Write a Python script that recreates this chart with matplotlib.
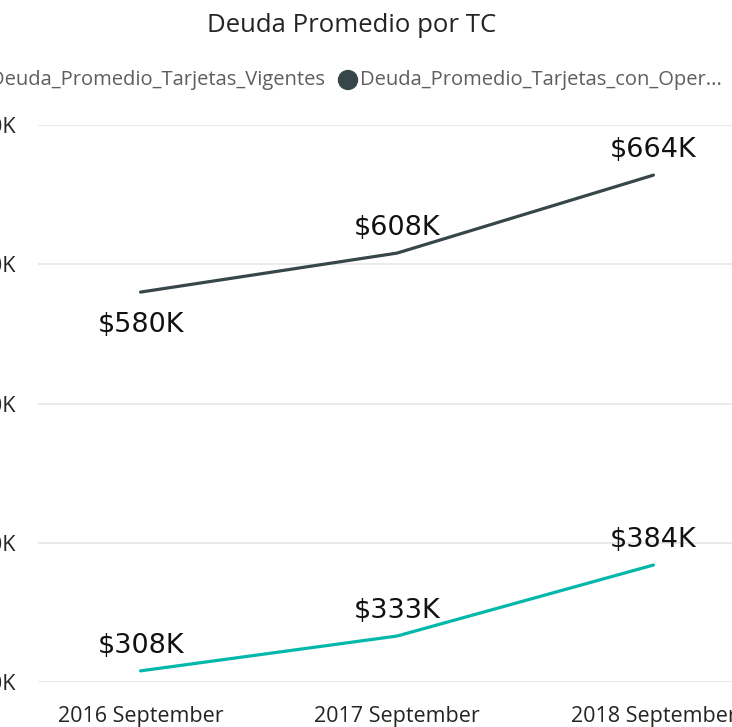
import matplotlib.pyplot as plt

periods = ['2016 September', '2017 September', '2018 September']
vigentes = [308, 333, 384]          # miles de $
con_oper = [580, 608, 664]          # miles de $
yticks = [300, 400, 500, 600, 700]

W, H = 732, 727
fig = plt.figure(figsize=(W / 100, H / 100), dpi=100)

# axes slightly wider than the canvas, like the cropped Power BI visual
ax = fig.add_axes([38 / W, 45 / H, 718 / W, 557 / H])
x = range(len(periods))
ax.plot(x, con_oper, color='#374649', lw=2.3, solid_capstyle='round')
ax.plot(x, vigentes, color='#01B8AA', lw=2.3, solid_capstyle='round')

ax.set_xlim(-0.4, 2.4)
ax.set_ylim(300, 700)
ax.set_yticks(yticks)
ax.set_yticklabels(['$%dK' % v for v in yticks], fontsize=15.5, family='Open Sans', color='#252423')
ax.set_xticks(list(x))
ax.set_xticklabels(periods, fontsize=15.5, family='Open Sans', color='#252423')
ax.tick_params(length=0, axis='y', pad=16)
ax.tick_params(length=0, axis='x', pad=17)
ax.grid(axis='y', color='#e6e6e6', lw=1.2)
ax.set_axisbelow(True)
for s in ax.spines.values():
    s.set_visible(False)

# data labels
offs_top = [-33, 25, 25]
for i, v in enumerate(con_oper):
    ax.annotate('$%dK' % v, (i, v), xytext=(0, offs_top[i]), textcoords='offset pixels',
                ha='center', va='center', fontsize=19.5, color='#111111')
for i, v in enumerate(vigentes):
    ax.annotate('$%dK' % v, (i, v), xytext=(0, 25), textcoords='offset pixels',
                ha='center', va='center', fontsize=19.5, color='#111111')

fig.text(352 / W, 1 - 25 / H, 'Deuda Promedio por TC', ha='center', va='center',
         fontsize=18.5, family='Open Sans', color='#252423')

# legend (cut off on the left as in the original visual)
ly = 1 - 80 / H
fig.text(325 / W, ly, 'Deuda_Promedio_Tarjetas_Vigentes', ha='right', va='center',
         fontsize=14.5, family='Open Sans', color='#605E5C')
fig.patches.append(plt.Circle((348 / W, ly), 9.5 / W, transform=fig.transFigure,
                              color='#374649'))
fig.text(360 / W, ly, 'Deuda_Promedio_Tarjetas_con_Oper...', ha='left', va='center',
         fontsize=14.5, family='Open Sans', color='#605E5C')

fig.savefig('out.png', dpi=100)
